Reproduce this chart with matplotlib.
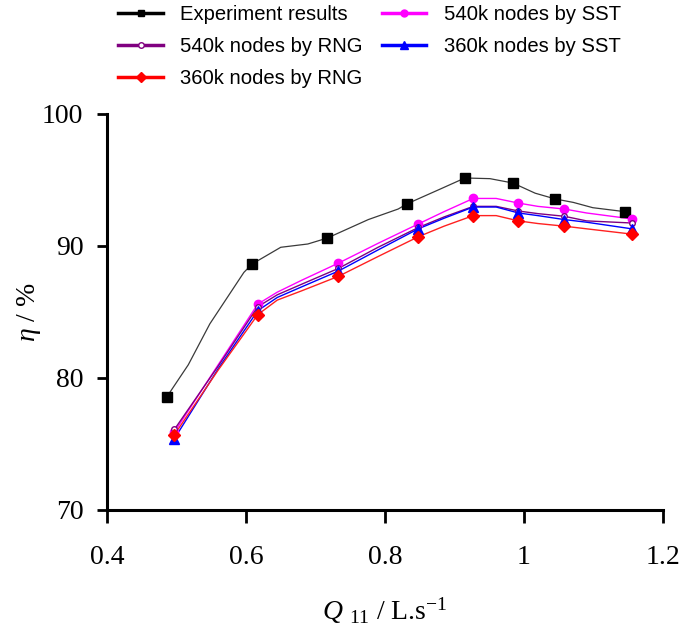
import matplotlib
matplotlib.use("Agg")
import matplotlib.pyplot as plt
from matplotlib.lines import Line2D

plt.rcParams['mathtext.fontset'] = 'custom'
plt.rcParams['mathtext.rm'] = 'Liberation Serif'
plt.rcParams['mathtext.it'] = 'Liberation Serif:italic'

# Experiment markers and line
exp_x = [0.486, 0.609, 0.717, 0.832, 0.915, 0.984, 1.045, 1.145]
exp_y = [78.56, 88.64, 90.6, 93.2, 95.15, 94.77, 93.56, 92.6]
exp_line_x = [0.486, 0.517, 0.548, 0.597, 0.609, 0.650, 0.689, 0.717, 0.776, 0.819, 0.832,
              0.879, 0.915, 0.951, 0.984, 1.016, 1.045, 1.071, 1.099, 1.145]
exp_line_y = [78.56, 81.0, 84.1, 88.0, 88.64, 89.9, 90.15, 90.6, 92.0, 92.8, 93.2,
              94.3, 95.15, 95.1, 94.77, 94.0, 93.56, 93.3, 92.9, 92.6]

# CFD markers
cfd_x = [0.497, 0.617, 0.733, 0.848, 0.927, 0.992, 1.058, 1.155]
sst540_y = [75.9, 85.6, 88.7, 91.67, 93.6, 93.25, 92.8, 92.05]
rng540_y = [76.1, 85.4, 88.3, 91.4, 93.0, 92.65, 92.25, 91.74]
sst360_y = [75.4, 85.1, 88.1, 91.3, 92.95, 92.5, 92.0, 91.3]
rng360_y = [75.7, 84.8, 87.7, 90.7, 92.3, 91.9, 91.5, 90.9]

# CFD lines (including bends between markers)
cfd_line_x = [0.497, 0.56, 0.617, 0.645, 0.68, 0.733, 0.79, 0.848, 0.885, 0.927, 0.96,
              0.992, 1.02, 1.058, 1.09, 1.155]
sst540_line = [75.9, 81.0, 85.6, 86.5, 87.4, 88.7, 90.2, 91.67, 92.6, 93.6, 93.6,
               93.25, 93.0, 92.8, 92.5, 92.05]
rng540_line = [76.1, 80.9, 85.4, 86.3, 87.1, 88.3, 89.9, 91.4, 92.2, 93.0, 93.0,
               92.65, 92.45, 92.25, 91.9, 91.74]
sst360_line = [75.4, 80.7, 85.1, 86.1, 86.9, 88.1, 89.7, 91.3, 92.1, 92.95, 92.95,
               92.5, 92.3, 92.0, 91.8, 91.3]
rng360_line = [75.7, 80.6, 84.8, 85.9, 86.6, 87.7, 89.2, 90.7, 91.5, 92.3, 92.3,
               91.9, 91.7, 91.5, 91.3, 90.9]

x_ticks = [0.4, 0.6, 0.8, 1.0, 1.2]
x_tick_labels = ['0.4', '0.6', '0.8', '1', '1.2']
y_ticks = [70, 80, 90, 100]

fig = plt.figure(figsize=(6.84, 6.41), dpi=100)
ax = fig.add_axes([0.1564, 0.2044, 0.8129, 0.6178])

ax.plot(exp_line_x, exp_line_y, color='#3a3a3a', lw=0.9, zorder=2)
ax.plot(exp_x, exp_y, ls='none', marker='s', ms=6.5, color='black', zorder=3)

ax.plot(cfd_line_x, sst540_line, color='#ff00ff', lw=1.0, zorder=2)
ax.plot(cfd_line_x, rng540_line, color='#800080', lw=1.0, zorder=2)
ax.plot(cfd_line_x, sst360_line, color='#0000ff', lw=1.0, zorder=2)
ax.plot(cfd_line_x, rng360_line, color='#ff2020', lw=1.0, zorder=2)

ax.plot(cfd_x, sst540_y, ls='none', marker='o', ms=6, color='#ff00ff', zorder=3)
ax.plot(cfd_x, rng540_y, ls='none', marker='o', ms=4, mfc='white', mec='#800080', mew=1.0, zorder=4)
ax.plot(cfd_x, sst360_y, ls='none', marker='^', ms=7.5, color='#0000ff', zorder=5)
ax.plot(cfd_x, rng360_y, ls='none', marker='D', ms=6.5, color='#ff0000', zorder=6)

ax.set_xlim(0.4, 1.2)
ax.set_ylim(70, 100)
ax.set_xticks(x_ticks)
ax.set_xticklabels(x_tick_labels)
ax.set_yticks(y_ticks)
for s in ['top', 'right']:
    ax.spines[s].set_visible(False)
for s in ['left', 'bottom']:
    ax.spines[s].set_linewidth(2.2)
ax.tick_params(axis='x', direction='out', length=9, width=2, labelsize=20, pad=16)
ax.tick_params(axis='y', direction='out', length=7, width=2, labelsize=20, pad=10)
for lab in ax.get_xticklabels() + ax.get_yticklabels():
    lab.set_fontfamily('Liberation Serif')

ax.set_xlabel(r'$Q$ $_{11}$ / L.s$^{-1}$', fontsize=20, fontfamily='Liberation Serif')
ax.set_ylabel(r'$\eta$ / %', fontsize=20, fontfamily='Liberation Serif')
ax.xaxis.set_label_coords(0.5, -0.215)
ax.yaxis.set_label_coords(-0.115, 0.5)

handles = [
    Line2D([], [], color='black', lw=2.5, marker='s', ms=5),
    Line2D([], [], color='#800080', lw=2.5, marker='o', ms=4, mfc='white', mec='#800080'),
    Line2D([], [], color='#ff0000', lw=2.5, marker='D', ms=5),
    Line2D([], [], color='#ff00ff', lw=2.5, marker='o', ms=5),
    Line2D([], [], color='#0000ff', lw=2.5, marker='^', ms=6),
]
labels = ['Experiment results', '540k nodes by RNG', '360k nodes by RNG',
          '540k nodes by SST', '360k nodes by SST']
fig.legend(handles, labels, ncol=2, loc='upper left', bbox_to_anchor=(0.158, 1.008),
           frameon=False, prop={'family': 'Liberation Sans', 'size': 14.6}, borderpad=0,
           handlelength=2.2, handletextpad=0.85, columnspacing=0.95, labelspacing=0.65)

fig.savefig('out.png', dpi=100)
